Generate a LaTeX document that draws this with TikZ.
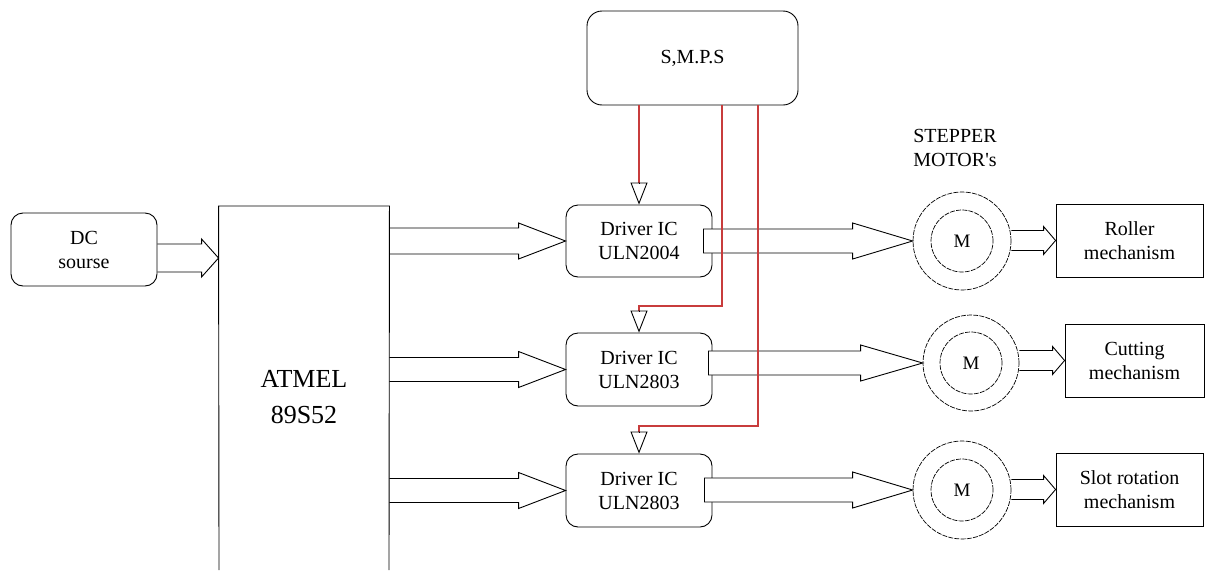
\documentclass[tikz,border=0pt]{standalone}
\usepackage{fontspec}
\setmainfont{Liberation Serif}
\newfontfamily\tms{Liberation Serif}
\usetikzlibrary{arrows.meta,calc}
\definecolor{smpsred}{RGB}{200,60,60}
\newcommand\openarrow[5]{\draw let \p1=(#1), \p2=(#2) in (\x1,\y2+#3) -- (\x2-#5,\y2+#3) -- (\x2-#5,\y2+#4) -- (\p2) -- (\x2-#5,\y2-#4) -- (\x2-#5,\y2-#3) -- (\x1,\y2-#3);}
\newcommand\closedarrow[5]{\draw[fill=white] let \p1=(#1), \p2=(#2) in (\x1,\y2+#3) -- (\x2-#5,\y2+#3) -- (\x2-#5,\y2+#4) -- (\p2) -- (\x2-#5,\y2-#4) -- (\x2-#5,\y2-#3) -- (\x1,\y2-#3) -- cycle;}
\begin{document}
\begin{tikzpicture}[x=1pt,y=-1pt, line width=0.9pt,
  lbl/.style={font=\tms\fontsize{20}{24}\selectfont, align=center},
  rbox/.style={draw, rounded corners=12pt, lbl, inner sep=0pt},
  sbox/.style={draw, lbl, inner sep=0pt},
  motor/.style={draw, circle, inner sep=0pt, line width=0.7pt, dash pattern=on 5pt off 1.2pt},
  feed/.style={draw=smpsred, line width=1.2pt},
  feedtip/.style={draw=black, line width=0.9pt, -{Triangle[open,length=22pt,width=17pt]}}
]
\useasboundingbox[fill=white] (0,0) rectangle (1206,570);

% sources and controller
\node[rbox, minimum width=146pt, minimum height=73pt] (dc) at (84,249.5) {DC\\sourse};
\node[lbl, minimum width=170pt, minimum height=384pt, inner sep=0pt, font=\tms\fontsize{26}{36}\selectfont] (atmel) at (304,397) {ATMEL\\89S52};
\coordinate (abl) at (219,570);
\coordinate (abr) at (389,570);
\draw (abl) -- (atmel.north west |- 0,206) -- (atmel.north east |- 0,206) -- (abr);

\node[rbox, rounded corners=15pt, minimum width=211pt, minimum height=94pt] (smps) at (692.5,58) {S,M.P.S};

% drivers
\node[rbox, minimum width=146pt, minimum height=72pt] (d1) at (639,241) {Driver IC\\ULN2004};
\node[rbox, minimum width=146pt, minimum height=73pt] (d2) at (639,369.5) {Driver IC\\ULN2803};
\node[rbox, minimum width=146pt, minimum height=73pt] (d3) at (639,490.5) {Driver IC\\ULN2803};

% motors
\node[lbl] (stp) at (955,148) {STEPPER\\MOTOR's};
\node[motor, minimum size=98pt] (m1) at (962,241) {};
\node[motor, minimum size=62pt, font=\tms\fontsize{19}{22}\selectfont] (m1i) at (m1) {M};
\node[motor, minimum size=96pt] (m2) at (971,363) {};
\node[motor, minimum size=62pt, font=\tms\fontsize{19}{22}\selectfont] (m2i) at (m2) {M};
\node[motor, minimum size=98pt] (m3) at (962,490) {};
\node[motor, minimum size=62pt, font=\tms\fontsize{19}{22}\selectfont] (m3i) at (m3) {M};

% mechanisms
\node[sbox, minimum width=147pt, minimum height=73pt] (r1) at (1129.5,240.5) {Roller\\mechanism};
\node[sbox, minimum width=139pt, minimum height=73pt] (r2) at (1134.5,360.5) {Cutting\\mechanism};
\node[sbox, minimum width=147pt, minimum height=73pt] (r3) at (1129.5,489.5) {Slot rotation\\mechanism};

% block arrows
\openarrow{dc.east}{$(dc.east -| atmel.west)+(0,8.5)$}{14pt}{19pt}{17pt}
\openarrow{atmel.east}{d1.west}{13pt}{18pt}{47pt}
\openarrow{atmel.east}{d2.west}{12pt}{18pt}{47pt}
\openarrow{atmel.east}{d3.west}{12pt}{18pt}{47pt}
\closedarrow{$(d1.east)+(-9,0)$}{m1.west}{12pt}{18pt}{60pt}
\closedarrow{$(d2.east)+(-4,0)$}{m2.west}{12pt}{18pt}{62pt}
\closedarrow{$(d3.east)+(-8,0)$}{m3.west}{12pt}{18pt}{60pt}
\openarrow{m1.east}{r1.west}{10pt}{14pt}{12pt}
\openarrow{m2.east}{r2.west}{10pt}{14pt}{12pt}
\openarrow{m3.east}{r3.west}{10pt}{14pt}{12pt}

% supply lines
\coordinate (c2) at (722,306);
\coordinate (c3) at (758,426);
\coordinate (t1) at ($(d1.north)+(0,-22)$);
\coordinate (t2) at ($(d2.north)+(0,-22)$);
\coordinate (t3) at ($(d3.north)+(0,-22)$);
\draw[feed] (t1 |- smps.south) -- (t1);
\draw[feed] (c2 |- smps.south) -- (c2) -- (c2 -| t2) -- (t2);
\draw[feed] (c3 |- smps.south) -- (c3) -- (c3 -| t3) -- (t3);
\draw[feedtip] (t1) -- (d1.north);
\draw[feedtip] (t2) -- (d2.north);
\draw[feedtip] (t3) -- (d3.north);
\end{tikzpicture}
\end{document}
